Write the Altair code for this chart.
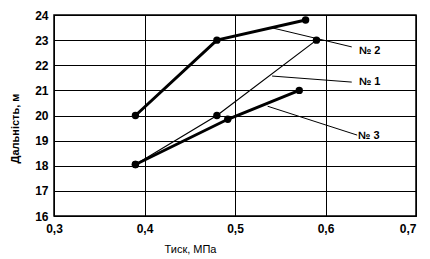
import altair as alt
import pandas as pd

# Series data (pressure MPa, distance m)
s1_x = [0.39, 0.48, 0.59]
s1_y = [18.05, 20.0, 23.0]
s2_x = [0.39, 0.48, 0.578]
s2_y = [20.0, 23.0, 23.8]
s3_x = [0.39, 0.492, 0.571]
s3_y = [18.05, 19.85, 21.0]

labels = ["№ 2", "№ 1", "№ 3"]
lead_x1 = [0.542, 0.541, 0.536]
lead_y1 = [23.48, 21.57, 20.37]
lead_x2 = [0.629, 0.629, 0.635]
lead_y2 = [22.73, 21.33, 19.22]
label_x = [0.637, 0.637, 0.636]
label_y = [22.57, 21.33, 19.18]

x_ticks = [0.3, 0.4, 0.5, 0.6, 0.7]
y_ticks = [16, 17, 18, 19, 20, 21, 22, 23, 24]

rows = []
for name, xs, ys, w in [("1", s1_x, s1_y, 1.2), ("2", s2_x, s2_y, 3), ("3", s3_x, s3_y, 3)]:
    for i, (a, b) in enumerate(zip(xs, ys)):
        rows.append({"s": name, "x": a, "y": b, "o": i, "w": w})
df = pd.DataFrame(rows)

lead = pd.DataFrame({"label": labels, "x1": lead_x1, "y1": lead_y1,
                     "x2": lead_x2, "y2": lead_y2, "lx": label_x, "ly": label_y})

xscale = alt.Scale(domain=[0.3, 0.7], nice=False, zero=False)
yscale = alt.Scale(domain=[16, 24], nice=False, zero=False)

xaxis = alt.Axis(values=x_ticks, title="Тиск, МПа", grid=True, ticks=False,
                 labelExpr="replace(format(datum.value, '.1f'), '.', ',')",
                 labelOverlap=False, labelFlush=False,
                 labelAlign={"expr": "datum.value > 0.65 ? 'right' : 'center'"},
                 labelPadding=7, labelFontSize=12, labelFontWeight="bold",
                 titleFontSize=11, titleFontWeight="normal", titleX=136, titleY=33,
                 titleAnchor="start", titleAlign="center", titleBaseline="middle")
yaxis = alt.Axis(values=y_ticks, tickCount=9, title="Дальність, м", grid=True, ticks=False,
                 labelOverlap=False, labelFlush=False,
                 labelPadding=6, labelFontSize=12, labelFontWeight="bold",
                 titleFontSize=11, titleFontWeight="bold", titleX=-39, titleY=113,
                 titleAlign="center", titleBaseline="middle")

base = alt.Chart(df)
lines = base.mark_line(color="black").encode(
    x=alt.X("x:Q", scale=xscale, axis=xaxis),
    y=alt.Y("y:Q", scale=yscale, axis=yaxis),
    detail="s:N",
    order="o:Q",
    strokeWidth=alt.StrokeWidth("w:Q", scale=None),
)
points = base.mark_circle(color="black", opacity=1, size=55).encode(
    x=alt.X("x:Q", scale=xscale), y=alt.Y("y:Q", scale=yscale))

leaders = alt.Chart(lead).mark_rule(color="black", strokeWidth=1).encode(
    x=alt.X("x1:Q", scale=xscale), y=alt.Y("y1:Q", scale=yscale),
    x2="x2:Q", y2="y2:Q")
texts = alt.Chart(lead).mark_text(align="left", baseline="middle", fontSize=11,
                                  fontWeight="bold", color="black").encode(
    x=alt.X("lx:Q", scale=xscale), y=alt.Y("ly:Q", scale=yscale), text="label:N")

chart = alt.layer(lines, points, leaders, texts).properties(
    width=362, height=201,
    autosize=alt.AutoSizeParams(type="none"),
    padding={"left": 46, "top": 7, "right": 6, "bottom": 43},
).configure_axis(
    domainColor="black", gridColor="black", gridOpacity=1, gridWidth=1,
    labelColor="black", titleColor="black", labelFont="Liberation Sans",
    titleFont="Liberation Sans",
).configure_view(stroke="black", strokeWidth=1.5).configure_text(font="Liberation Sans")

chart.save("out.html", embed_options={"renderer": "svg", "actions": False})
